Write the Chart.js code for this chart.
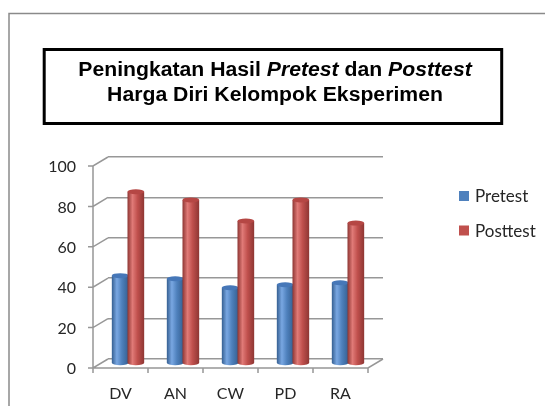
<!DOCTYPE html>
<html>
<head>
<meta charset="utf-8">
<script src="https://cdn.jsdelivr.net/npm/chart.js@4.4.1/dist/chart.umd.min.js"></script>
<style>
  html, body { margin: 0; padding: 0; background: #fff; overflow: hidden; }
  canvas { display: block; }
</style>
</head>
<body>
<canvas id="chart" width="545" height="406"></canvas>
<script>
// Data
const categories = ['DV', 'AN', 'CW', 'PD', 'RA'];
const pretest = [43.5, 42, 37.5, 39, 40];
const posttest = [85, 81, 70.5, 81, 69.5];
const yTicks = [0, 20, 40, 60, 80, 100];
const seriesNames = ['Pretest', 'Posttest'];

const titleLines = [
    [['Peningkatan Hasil ', false], ['Pretest', true], [' dan ', false], ['Posttest', true]],
    [['Harga Diri Kelompok Eksperimen', false]]
];

// 3D look: offset from back wall to front edge
const DX = 15, DY = 9;
const gridColor = '#979797';
const textColor = '#262626';

const colors = {
    Pretest:  { base: '#4f81bd', dark: '#355f91', light: '#79a7e2', top: '#4677b8' },
    Posttest: { base: '#c0504d', dark: '#8e3633', light: '#e07a77', top: '#b54744' }
};

// Frame, title box and the 3D walls / floor
const framePlugin = {
    id: 'frame3d',
    beforeDraw(chart) {
        const ctx = chart.ctx;
        ctx.save();
        ctx.fillStyle = '#fff';
        ctx.fillRect(0, 0, chart.width, chart.height);

        // outer frame
        ctx.strokeStyle = '#8a8a8a';
        ctx.lineWidth = 1.5;
        ctx.strokeRect(9, 13.5, 700, 600);

        // title box
        ctx.strokeStyle = '#000';
        ctx.lineWidth = 3;
        ctx.strokeRect(44.2, 49.5, 457.5, 74);

        // title text (the reference font is slightly wide)
        const sx = 1.06;
        ctx.fillStyle = '#000';
        ctx.textBaseline = 'alphabetic';
        ctx.textAlign = 'left';
        const baselines = [76, 100.5];
        const fontFor = it => (it ? 'italic ' : '') + 'bold 20px "Liberation Sans", Arial, sans-serif';
        titleLines.forEach((parts, li) => {
            let total = 0;
            parts.forEach(([t, it]) => {
                ctx.font = fontFor(it);
                total += ctx.measureText(t).width;
            });
            ctx.save();
            ctx.translate(275, baselines[li]);
            ctx.scale(sx, 1);
            let x = -total / 2;
            parts.forEach(([t, it]) => {
                ctx.font = fontFor(it);
                ctx.fillText(t, x, 0);
                x += ctx.measureText(t).width;
            });
            ctx.restore();
        });
        ctx.restore();
    },
    beforeDatasetsDraw(chart) {
        const ctx = chart.ctx;
        const { left, right, bottom } = chart.chartArea;
        const y = chart.scales.y;
        ctx.save();
        ctx.strokeStyle = gridColor;
        ctx.lineWidth = 1.5;
        ctx.beginPath();
        // left wall diagonals + small ticks
        yTicks.forEach(v => {
            const py = y.getPixelForValue(v);
            ctx.moveTo(left, py);
            ctx.lineTo(left - DX, py + DY);
            ctx.lineTo(left - DX - 5, py + DY);
        });
        // front vertical axis
        ctx.moveTo(left - DX, y.getPixelForValue(100) + DY);
        ctx.lineTo(left - DX, bottom + DY);
        // floor front edge and right edge
        ctx.lineTo(right - DX, bottom + DY);
        ctx.lineTo(right, bottom);
        // category ticks under the floor
        const step = (right - left) / categories.length;
        for (let i = 0; i <= categories.length; i++) {
            const px = left - DX + i * step;
            ctx.moveTo(px, bottom + DY);
            ctx.lineTo(px, bottom + DY + 5);
        }
        ctx.stroke();
        ctx.restore();
    }
};

// Draw bars as cylinders sitting in the middle of the depth
const cylinderPlugin = {
    id: 'cylinders',
    beforeDatasetDraw() {
        return false;
    },
    afterDatasetsDraw(chart) {
        const ctx = chart.ctx;
        const ox = -DX / 2, oy = DY / 2;
        chart.data.datasets.forEach((ds, di) => {
            const c = colors[ds.label];
            chart.getDatasetMeta(di).data.forEach(bar => {
                const p = bar.getProps(['x', 'y', 'base', 'width'], true);
                const cx = p.x + ox, top = p.y + oy, base = p.base + oy;
                const r = p.width / 2 + 0.5;
                const ry = 2.5;
                const g = ctx.createLinearGradient(cx - r, 0, cx + r, 0);
                g.addColorStop(0, c.dark);
                g.addColorStop(0.3, c.light);
                g.addColorStop(0.6, c.base);
                g.addColorStop(1, c.dark);
                ctx.save();
                ctx.fillStyle = g;
                ctx.beginPath();
                ctx.moveTo(cx - r, top);
                ctx.lineTo(cx - r, base);
                ctx.ellipse(cx, base, r, ry, 0, Math.PI, 0, true);
                ctx.lineTo(cx + r, top);
                ctx.closePath();
                ctx.fill();
                ctx.fillStyle = c.top;
                ctx.beginPath();
                ctx.ellipse(cx, top, r, ry, 0, 0, Math.PI * 2);
                ctx.fill();
                ctx.restore();
            });
        });
    }
};

// Legend on the right
const legendPlugin = {
    id: 'sideLegend',
    afterDraw(chart) {
        const ctx = chart.ctx;
        ctx.save();
        ctx.font = '17px Lato, "Open Sans", sans-serif';
        ctx.textBaseline = 'middle';
        ctx.textAlign = 'left';
        const rows = [196, 230.5];
        chart.data.datasets.forEach((ds, i) => {
            ctx.fillStyle = ds.backgroundColor;
            ctx.fillRect(459, rows[i] - 5, 10, 10);
            ctx.fillStyle = textColor;
            ctx.fillText(ds.label, 475, rows[i] + 1);
        });
        ctx.restore();
    }
};

new Chart(document.getElementById('chart'), {
    type: 'bar',
    data: {
        labels: categories,
        datasets: [
            { label: seriesNames[0], data: pretest, backgroundColor: colors.Pretest.base },
            { label: seriesNames[1], data: posttest, backgroundColor: colors.Posttest.base }
        ]
    },
    options: {
        responsive: false,
        animation: false,
        devicePixelRatio: 1,
        layout: { padding: { left: 0, top: 157, right: 162, bottom: 7 } },
        datasets: { bar: { categoryPercentage: 0.57, barPercentage: 1 } },
        plugins: {
            legend: { display: false },
            title: { display: false },
            tooltip: { enabled: false }
        },
        scales: {
            x: {
                grid: { display: false, drawTicks: false },
                border: { display: false },
                ticks: {
                    color: textColor,
                    font: { family: 'Lato, "Open Sans", sans-serif', size: 16 },
                    padding: 25,
                    labelOffset: -DX
                },
                afterFit(scale) { scale.height = 40; }
            },
            y: {
                min: 0,
                max: 100,
                grid: { color: gridColor, lineWidth: 1.5, drawTicks: false },
                border: { display: false },
                ticks: {
                    color: textColor,
                    font: { family: 'Lato, "Open Sans", sans-serif', size: 16 },
                    padding: 32,
                    labelOffset: 10
                },
                afterBuildTicks(scale) {
                    scale.ticks = yTicks.map(v => ({ value: v }));
                },
                afterFit(scale) { scale.width = 108; }
            }
        }
    },
    plugins: [framePlugin, cylinderPlugin, legendPlugin]
});
</script>
</body>
</html>
